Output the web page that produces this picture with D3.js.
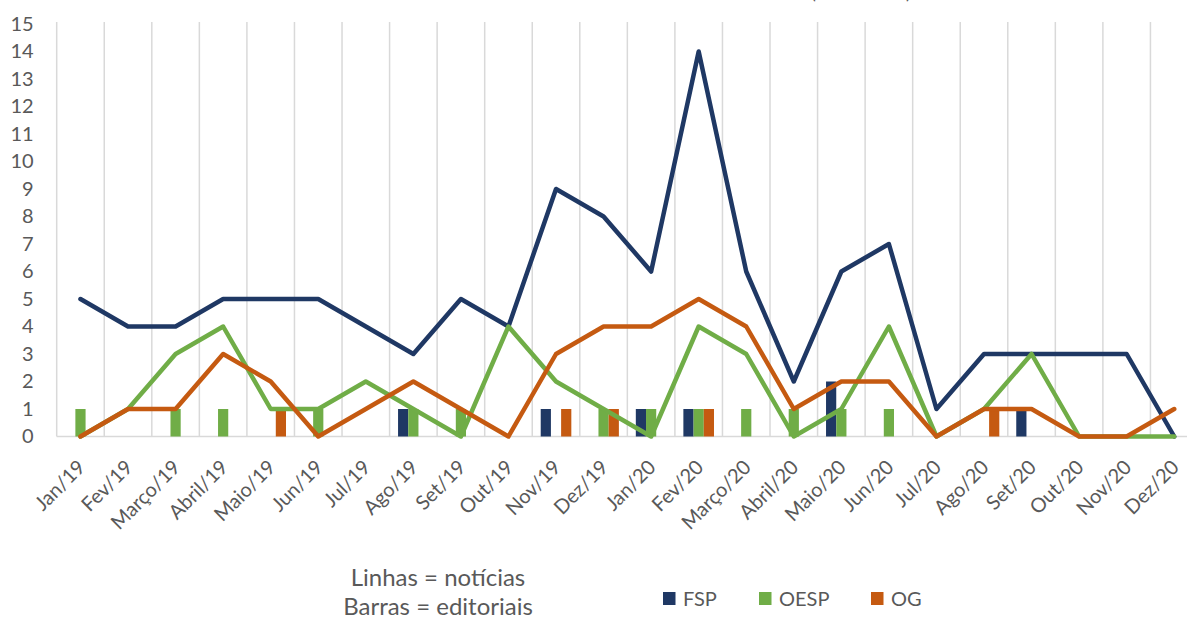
<!DOCTYPE html>
<html>
<head>
<meta charset="utf-8">
<script src="https://cdn.jsdelivr.net/npm/d3@7"></script>
<style>
  html, body { margin: 0; padding: 0; background: #fff; }
  svg { display: block; font-family: Lato, 'Open Sans', sans-serif; }
  .grid line { stroke: #d9d9d9; stroke-width: 1.5; }
  .axis text { fill: #595959; }
  .line { fill: none; stroke-width: 4.5; stroke-linejoin: round; stroke-linecap: round; }
</style>
</head>
<body>
<div id="chart"></div>
<script>
// categories (months)
var categories = ['Jan/19', 'Fev/19', 'Março/19', 'Abril/19', 'Maio/19', 'Jun/19', 'Jul/19', 'Ago/19',
  'Set/19', 'Out/19', 'Nov/19', 'Dez/19', 'Jan/20', 'Fev/20', 'Março/20', 'Abril/20', 'Maio/20',
  'Jun/20', 'Jul/20', 'Ago/20', 'Set/20', 'Out/20', 'Nov/20', 'Dez/20'];

var seriesNames = ['FSP', 'OESP', 'OG'];
var seriesColors = ['#1f3864', '#70ad47', '#c55a11'];

// lines = news
var newsFSP = [5, 4, 4, 5, 5, 5, 4, 3, 5, 4, 9, 8, 6, 14, 6, 2, 6, 7, 1, 3, 3, 3, 3, 0];
var newsOESP = [0, 1, 3, 4, 1, 1, 2, 1, 0, 4, 2, 1, 0, 4, 3, 0, 1, 4, 0, 1, 3, 0, 0, 0];
var newsOG = [0, 1, 1, 3, 2, 0, 1, 2, 1, 0, 3, 4, 4, 5, 4, 1, 2, 2, 0, 1, 1, 0, 0, 1];

// bars = editorials
var editFSP = [0, 0, 0, 0, 0, 0, 0, 1, 0, 0, 1, 0, 1, 1, 0, 0, 2, 0, 0, 0, 1, 0, 0, 0];
var editOESP = [1, 0, 1, 1, 0, 1, 0, 1, 1, 0, 0, 1, 1, 1, 1, 1, 1, 1, 0, 0, 0, 0, 0, 0];
var editOG = [0, 0, 0, 0, 1, 0, 0, 0, 0, 0, 1, 1, 0, 1, 0, 0, 0, 0, 0, 1, 0, 0, 0, 0];

var yTicks = d3.range(0, 16);

var width = 1187;
var height = 619;

// plot area (right side runs past the window edge, as in the picture)
var plot = { left: 56.7, right: 1198, top: 24, bottom: 436.5 };

var svg = d3.select('#chart').append('svg')
  .attr('width', width).attr('height', height);

// scales
var x0 = d3.scaleBand().domain(categories).range([plot.left, plot.right]);
var x1 = d3.scaleBand().domain(seriesNames).range([0, x0.bandwidth()]).paddingOuter(0.83);
var y = d3.scaleLinear().domain([0, 15]).range([plot.bottom, plot.top]);

// title (only the bottom of it is visible)
svg.append('text')
  .attr('x', 811).attr('y', -1)
  .attr('fill', '#595959')
  .style('font-size', '18px')
  .text('(2019-2020)');

// vertical gridlines at category boundaries
var gridX = categories.map(function(c) { return x0(c); }).concat([x0.range()[1]]);
svg.append('g').attr('class', 'grid')
  .selectAll('line').data(gridX).enter().append('line')
  .attr('x1', function(d) { return d; }).attr('x2', function(d) { return d; })
  .attr('y1', plot.top - 2).attr('y2', plot.bottom);

// horizontal axis line
svg.append('line')
  .attr('x1', plot.left).attr('x2', plot.right).attr('y1', plot.bottom).attr('y2', plot.bottom)
  .attr('stroke', '#d9d9d9').attr('stroke-width', 1.5);

// y axis
var yAxis = svg.append('g').attr('class', 'axis')
  .attr('transform', 'translate(' + plot.left + ',0)')
  .call(d3.axisLeft(y).tickValues(yTicks).tickSize(0).tickPadding(23));
yAxis.select('.domain').remove();
yAxis.selectAll('text').style('font-size', '20px').style('font-family', 'Lato, sans-serif');

// x axis, labels rotated
var xAxis = svg.append('g').attr('class', 'axis')
  .attr('transform', 'translate(0,' + plot.bottom + ')')
  .call(d3.axisBottom(x0).tickSize(0));
xAxis.select('.domain').remove();
xAxis.selectAll('text')
  .attr('x', 0).attr('y', 0).attr('dy', '0.35em')
  .attr('transform', 'translate(1,27) rotate(-45)')
  .style('text-anchor', 'end')
  .style('font-size', '20px')
  .style('font-family', 'Lato, sans-serif');

// bars (editorials)
var editData = [editFSP, editOESP, editOG];
var barRows = categories.map(function(c, i) {
  return seriesNames.map(function(s, k) {
    return { cat: c, key: s, value: editData[k][i], color: seriesColors[k] };
  });
});

svg.append('g').selectAll('g').data(barRows).enter().append('g')
  .attr('transform', function(d) { return 'translate(' + x0(d[0].cat) + ',0)'; })
  .selectAll('rect').data(function(d) { return d.filter(function(e) { return e.value > 0; }); })
  .enter().append('rect')
  .attr('x', function(d) { return x1(d.key); })
  .attr('width', x1.bandwidth())
  .attr('y', function(d) { return y(d.value); })
  .attr('height', function(d) { return y(0) - y(d.value); })
  .attr('fill', function(d) { return d.color; });

// lines (news)
var newsData = [newsFSP, newsOESP, newsOG];
var line = d3.line()
  .x(function(d, i) { return x0(categories[i]) + x0.bandwidth() / 2; })
  .y(function(d) { return y(d); });

svg.append('g').selectAll('path').data(newsData).enter().append('path')
  .attr('class', 'line')
  .attr('stroke', function(d, i) { return seriesColors[i]; })
  .attr('d', line);

// notes under the chart
var notes = svg.append('g').attr('fill', '#595959').style('font-size', '24px').attr('text-anchor', 'middle');
notes.append('text').attr('x', 438).attr('y', 578).attr('dy', '0.35em').text('Linhas = notícias');
notes.append('text').attr('x', 438).attr('y', 607).attr('dy', '0.35em').text('Barras = editoriais');

// legend
var legendX = [663, 759, 871];
var legend = svg.append('g').selectAll('g').data(seriesNames).enter().append('g')
  .attr('transform', function(d, i) { return 'translate(' + legendX[i] + ',592)'; });
legend.append('rect')
  .attr('width', 12.5).attr('height', 13)
  .attr('fill', function(d, i) { return seriesColors[i]; });
legend.append('text')
  .attr('x', 20).attr('y', 7).attr('dy', '0.35em')
  .attr('fill', '#595959')
  .style('font-size', '20px')
  .text(function(d) { return d; });
</script>
</body>
</html>
